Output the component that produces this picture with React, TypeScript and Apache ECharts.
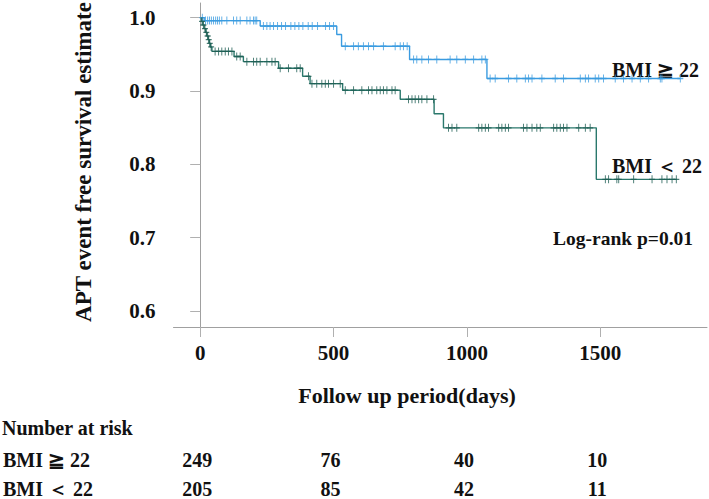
import React, { useEffect, useRef } from "react";
import * as echarts from "echarts";

// Kaplan-Meier step data: [day, survival after event]
const highBmiSteps: [number, number][] = [
  [0, 1.0], [15, 0.996], [225, 0.9886], [512, 0.977], [530, 0.961],
  [785, 0.943], [1075, 0.917], [1800, 0.917],
];
const lowBmiSteps: [number, number][] = [
  [0, 1.0], [5, 0.995], [10, 0.99], [15, 0.985], [20, 0.98], [25, 0.975],
  [30, 0.97], [34, 0.965], [38, 0.96], [44, 0.954], [127, 0.947], [162, 0.94],
  [294, 0.931], [384, 0.92], [412, 0.91], [534, 0.901], [750, 0.8886],
  [877, 0.869], [912, 0.8497], [1485, 0.7794], [1787, 0.7794],
];
// censored observation days
const highBmiCensor: number[] = [
  8, 20, 28, 35, 42, 50, 58, 65, 72, 81, 100, 125, 137, 150, 175, 187, 200, 206, 212,
  237, 250, 262, 275, 290, 305, 320, 340, 355, 370, 385, 405, 420, 440, 470, 485, 500,
  544, 575, 593, 612, 631, 650, 687, 731, 750, 762, 776,
  800, 812, 831, 856, 887, 937, 962, 994, 1025, 1056, 1069,
  1087, 1106, 1156, 1187, 1219, 1231, 1244, 1281, 1331, 1362, 1425, 1444, 1456, 1481,
  1494, 1512, 1556, 1587, 1619, 1650, 1681, 1725, 1731, 1800,
];
const lowBmiCensor: number[] = [
  7, 12, 18, 23, 28, 32, 36, 41,
  56, 69, 81, 94, 106, 119, 137, 150,
  175, 200, 212, 225, 250, 269, 281,
  300, 331, 362, 375, 406,
  419, 437, 456, 469, 481, 500, 525,
  544, 575, 606, 631, 644, 662, 675, 687, 700, 719, 731,
  781, 794, 806, 819, 831, 850, 875,
  931, 944, 962, 1044, 1056, 1069, 1081, 1119, 1131, 1144, 1156, 1212, 1225, 1244,
  1262, 1275, 1325, 1337, 1350, 1362, 1375, 1419, 1444, 1462,
  1519, 1531, 1562, 1569, 1625, 1694, 1731, 1750, 1769, 1785,
];
const xTicks = [0, 500, 1000, 1500];
const yTicks = [0.6, 0.7, 0.8, 0.9, 1.0];
const groupNames = ["BMI ≧ 22", "BMI ＜ 22"];
const riskHigh = [249, 76, 40, 10];
const riskLow = [205, 85, 42, 11];

const BLUE = "#3a9be0";
const GREEN = "#2a786c";
const GREEN_MARK = "#1d5c52";
const FONT = "'Liberation Serif', 'Times New Roman', serif";

function survivalAt(steps: [number, number][], t: number): number {
  let v = steps[0][1];
  for (const [d, s] of steps) {
    if (d <= t) v = s;
  }
  return v;
}

const PLUS =
  "path://M-0.16,-1H0.16V-0.16H1V0.16H0.16V1H-0.16V0.16H-1V-0.16H-0.16Z";

export default function App() {
  const ref = useRef<HTMLDivElement>(null);
  useEffect(() => {
    if (!ref.current) return;
    const chart = echarts.init(ref.current, undefined, { renderer: "svg" });
    const gridLeft = 173.5;
    const gridTop = 3;
    const gridBottom = 172;
    const xPx = (d: number) => chart.convertToPixel({ xAxisIndex: 0 }, d);

    const textStyleBase = { fontFamily: FONT, fontWeight: "bold" as const, fill: "#111" };

    chart.setOption({
      animation: false,
      grid: { left: gridLeft, right: 2, top: gridTop, bottom: gridBottom, containLabel: false },
      xAxis: {
        type: "value",
        min: -100,
        max: 1900,
        axisLine: { show: true, lineStyle: { color: "#a0a0a0", width: 1 } },
        axisTick: { show: true, length: 10, lineStyle: { color: "#b0b0b0" }, customValues: xTicks },
        axisLabel: {
          customValues: xTicks,
          margin: 15,
          color: "#111",
          fontFamily: FONT,
          fontWeight: "bold",
          fontSize: 21,
          formatter: (v: number) => String(v),
        },
        splitLine: { show: false },
      },
      yAxis: {
        type: "value",
        min: 0.578,
        max: 1.02,
        axisLine: { show: true, lineStyle: { color: "#a0a0a0", width: 1 } },
        axisTick: { show: true, length: 10, lineStyle: { color: "#b0b0b0" }, customValues: yTicks },
        axisLabel: {
          customValues: yTicks,
          margin: 18,
          color: "#111",
          fontFamily: FONT,
          fontWeight: "bold",
          fontSize: 21,
          formatter: (v: number) => v.toFixed(1),
        },
        splitLine: { show: false },
      },
      series: [
        {
          type: "line",
          name: groupNames[0],
          step: "end",
          data: highBmiSteps,
          showSymbol: false,
          lineStyle: { color: BLUE, width: 1.4 },
          z: 2,
        },
        {
          type: "line",
          name: groupNames[1],
          step: "end",
          data: lowBmiSteps,
          showSymbol: false,
          lineStyle: { color: GREEN, width: 1.4 },
          z: 2,
        },
        {
          type: "scatter",
          data: highBmiCensor.map((d) => [d, survivalAt(highBmiSteps, d)]),
          symbol: PLUS,
          symbolSize: [6, 8],
          itemStyle: { color: BLUE },
          z: 3,
        },
        {
          type: "scatter",
          data: lowBmiCensor.map((d) => [d, survivalAt(lowBmiSteps, d)]),
          symbol: PLUS,
          symbolSize: [6, 8],
          itemStyle: { color: GREEN_MARK },
          z: 3,
        },
      ],
    });

    const graphics: any[] = [
      {
        type: "text",
        x: 83,
        y: 162,
        rotation: Math.PI / 2,
        style: { ...textStyleBase, text: "APT event free survival estimate", fontSize: 23, textAlign: "center", textVerticalAlign: "middle" },
      },
      {
        type: "text",
        x: 407,
        y: 395,
        style: { ...textStyleBase, text: "Follow up period(days)", fontSize: 22, textAlign: "center", textVerticalAlign: "middle" },
      },
      {
        type: "text",
        x: 612,
        y: 70,
        style: { ...textStyleBase, text: groupNames[0], fontSize: 20, textAlign: "left", textVerticalAlign: "middle" },
      },
      {
        type: "text",
        x: 612,
        y: 166,
        style: { ...textStyleBase, text: groupNames[1], fontSize: 20, textAlign: "left", textVerticalAlign: "middle" },
      },
      {
        type: "text",
        x: 553,
        y: 238,
        style: { ...textStyleBase, text: "Log-rank p=0.01", fontSize: 19.5, textAlign: "left", textVerticalAlign: "middle" },
      },
      {
        type: "text",
        x: 2,
        y: 428,
        style: { ...textStyleBase, text: "Number at risk", fontSize: 20, textAlign: "left", textVerticalAlign: "middle" },
      },
      {
        type: "text",
        x: 3,
        y: 460,
        style: { ...textStyleBase, text: groupNames[0], fontSize: 20, textAlign: "left", textVerticalAlign: "middle" },
      },
      {
        type: "text",
        x: 3,
        y: 489,
        style: { ...textStyleBase, text: groupNames[1], fontSize: 20, textAlign: "left", textVerticalAlign: "middle" },
      },
    ];
    xTicks.forEach((t, i) => {
      const px = xPx(t) as number;
      graphics.push({
        type: "text",
        x: px - 3,
        y: 460,
        style: { ...textStyleBase, text: String(riskHigh[i]), fontSize: 20, textAlign: "center", textVerticalAlign: "middle" },
      });
      graphics.push({
        type: "text",
        x: px - 3,
        y: 489,
        style: { ...textStyleBase, text: String(riskLow[i]), fontSize: 20, textAlign: "center", textVerticalAlign: "middle" },
      });
    });
    chart.setOption({ graphic: graphics });

    return () => chart.dispose();
  }, []);
  return <div ref={ref} style={{ width: 709, height: 499, position: "absolute", left: 0, top: 0 }} />;
}
